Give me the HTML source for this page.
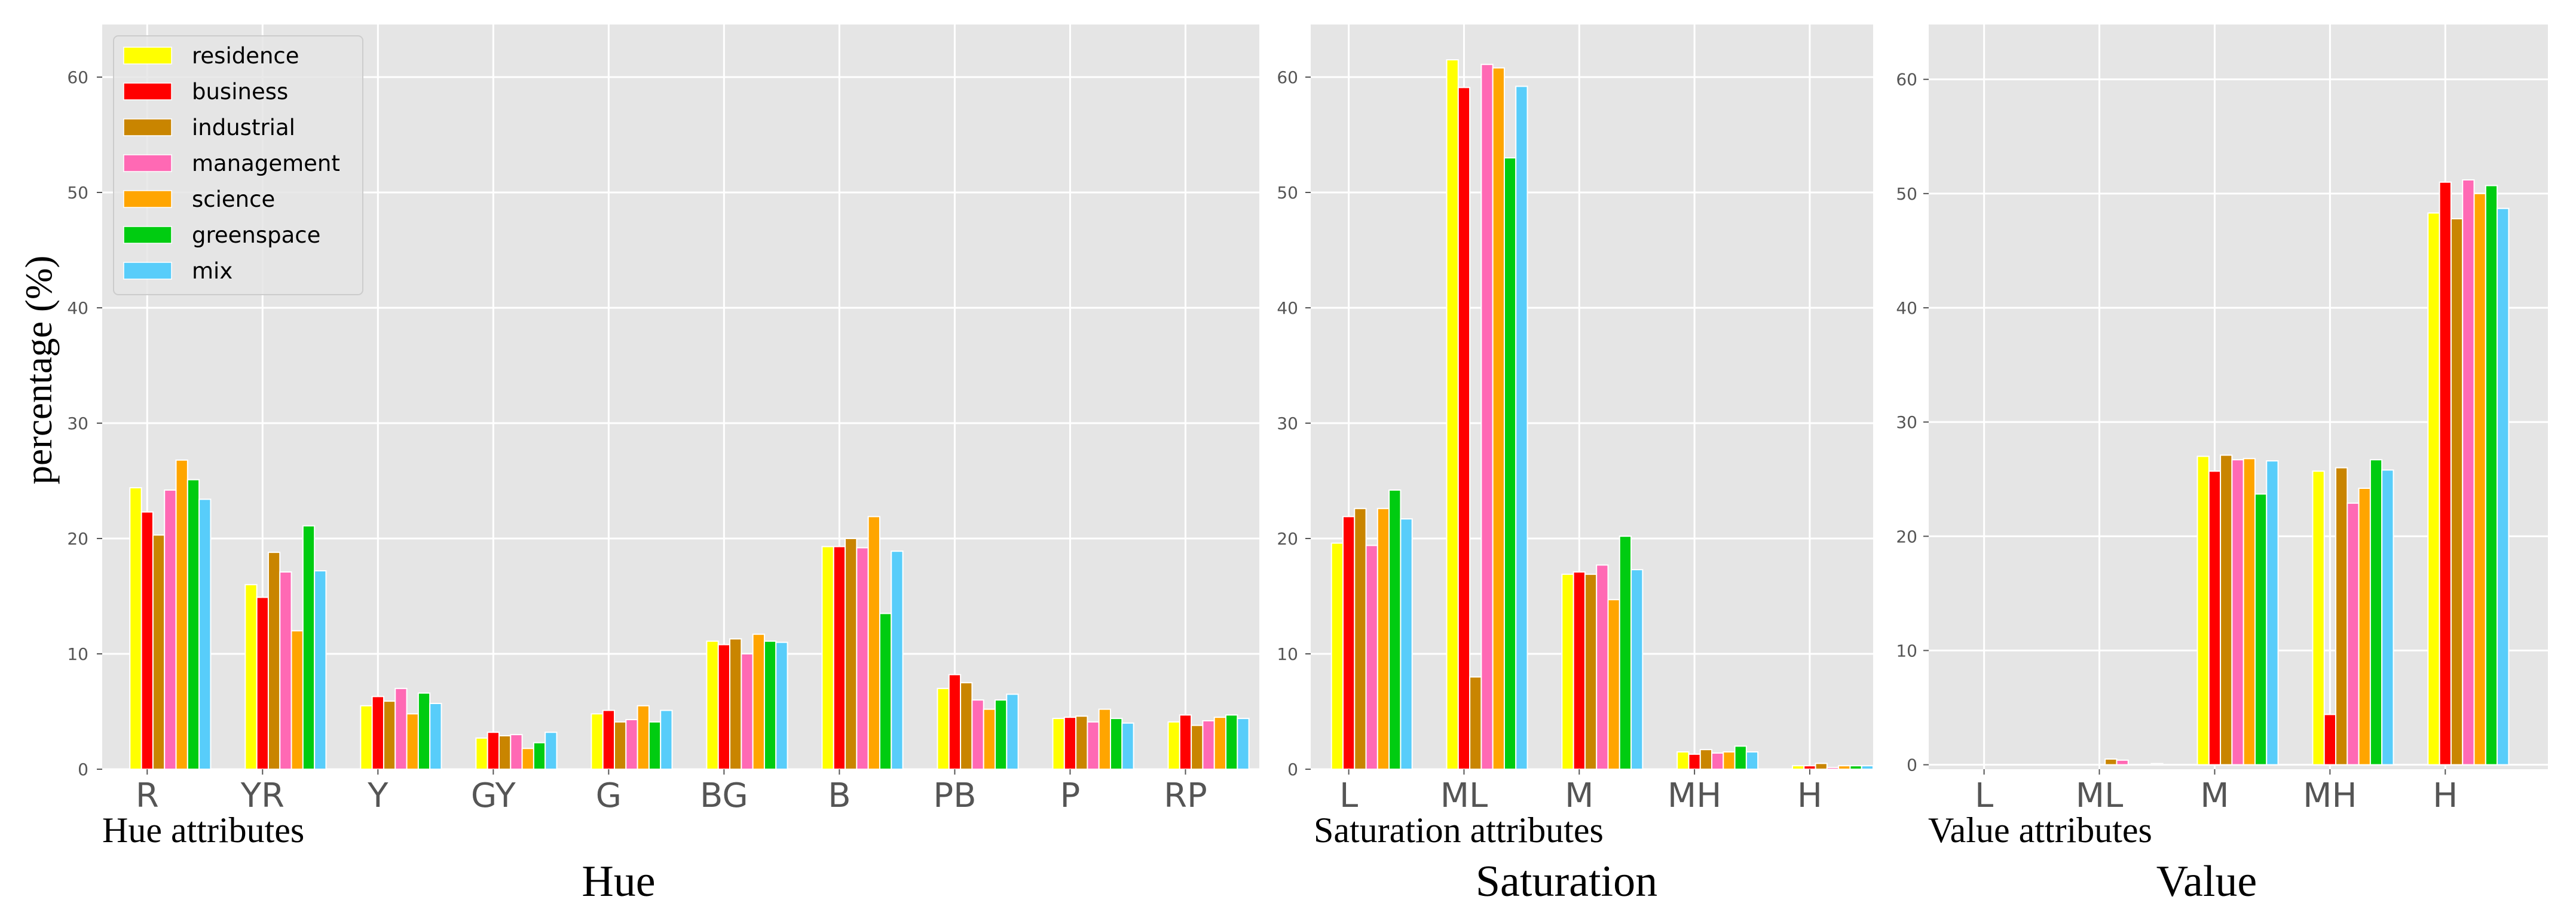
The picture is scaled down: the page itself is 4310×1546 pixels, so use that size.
<!DOCTYPE html>
<html><head><meta charset="utf-8"><style>
html,body{margin:0;padding:0;background:#fff;}
svg{display:block;}
</style></head><body>
<svg id="chart" width="4310" height="1546" viewBox="0 0 4310 1546" xmlns="http://www.w3.org/2000/svg"></svg>
<script>
const series = ["residence","business","industrial","management","science","greenspace","mix"];
const colors = ["#ffff00","#ff0000","#c98500","#ff69b4","#ffa500","#00cc11","#58cdfa"];
const hueCats = ["R","YR","Y","GY","G","BG","B","PB","P","RP"];
const satCats = ["L","ML","M","MH","H"];
const valCats = ["L","ML","M","MH","H"];
const yTicks = [0,10,20,30,40,50,60];
// values per category, ordered by series
const hueVals = [
 [24.4,22.3,20.3,24.2,26.8,25.1,23.4],
 [16.0,14.9,18.8,17.1,12.0,21.1,17.2],
 [5.5,6.3,5.9,7.0,4.8,6.6,5.7],
 [2.7,3.2,2.9,3.0,1.8,2.3,3.2],
 [4.8,5.1,4.1,4.3,5.5,4.1,5.1],
 [11.1,10.8,11.3,10.0,11.7,11.1,11.0],
 [19.3,19.3,20.0,19.2,21.9,13.5,18.9],
 [7.0,8.2,7.5,6.0,5.2,6.0,6.5],
 [4.4,4.5,4.6,4.1,5.2,4.4,4.0],
 [4.1,4.7,3.8,4.2,4.5,4.7,4.4]
];
const satVals = [
 [19.6,21.9,22.6,19.4,22.6,24.2,21.7],
 [61.5,59.1,8.0,61.1,60.8,53.0,59.2],
 [16.9,17.1,16.9,17.7,14.7,20.2,17.3],
 [1.5,1.3,1.7,1.4,1.5,2.0,1.5],
 [0.3,0.3,0.5,0.15,0.3,0.3,0.3]
];
const valVals = [
 [0,0,0,0,0,0,0],
 [0,0,0.5,0.4,0,0,0.1],
 [27.0,25.7,27.1,26.7,26.8,23.7,26.6],
 [25.7,4.4,26.0,22.9,24.2,26.7,25.8],
 [48.3,51.0,47.8,51.2,50.0,50.7,48.7]
];

const NS="http://www.w3.org/2000/svg";
const svg=document.getElementById('chart');
function mk(tag,attrs,parent){const e=document.createElementNS(NS,tag);for(const k in attrs)e.setAttribute(k,attrs[k]);(parent||svg).appendChild(e);return e;}

function panel(name,cats,vals,box,xlim,ylim,ylabX,subTitle,subX,title,titleX){
  const g=mk('g',{});
  
  
  const sx=v=>box.x+(v-xlim[0])/(xlim[1]-xlim[0])*box.w;
  const sy=v=>box.y+box.h-(v-ylim[0])/(ylim[1]-ylim[0])*box.h;
  const bg=mk('rect',{x:box.x,y:box.y,width:box.w,height:box.h,fill:'#e5e5e5'},g);
  
  
  yTicks.forEach(t=>{
    const y=sy(t);
    const gl=mk('line',{x1:box.x,x2:box.x+box.w,y1:y,y2:y,stroke:'#fff','stroke-width':3},g);
    
    
    mk('line',{x1:box.x-9,x2:box.x,y1:y,y2:y,stroke:'#555','stroke-width':2},g);
    const tx=mk('text',{x:ylabX,y:y+10,'text-anchor':'end','font-family':'DejaVu Sans, Liberation Sans, sans-serif','font-size':28,fill:'#555'},g);
    tx.textContent=t;
    
    
  });
  cats.forEach((c,i)=>{
    const x=sx(i);
    const gl=mk('line',{x1:x,x2:x,y1:box.y,y2:box.y+box.h,stroke:'#fff','stroke-width':3},g);
    
    
    mk('line',{x1:x,x2:x,y1:box.y+box.h,y2:box.y+box.h+9,stroke:'#555','stroke-width':2},g);
    const tx=mk('text',{x:x,y:box.y+box.h+63,'text-anchor':'middle','font-family':'DejaVu Sans, Liberation Sans, sans-serif','font-size':56,fill:'#555'},g);
    tx.textContent=c;
    
    
  });
  const clip=mk('clipPath',{id:'clip-'+name},g);
  mk('rect',{x:box.x,y:box.y,width:box.w,height:box.h},clip);
  const bars=mk('g',{'clip-path':'url(#clip-'+name+')'},g);
  const bw=0.1;
  cats.forEach((c,i)=>{
    series.forEach((s,j)=>{
      const v=vals[i][j];
      const xc=i+(j-1)*bw;
      const x0=sx(xc-bw/2), x1=sx(xc+bw/2);
      const y0=sy(0), y1=sy(v);
      const r=mk('rect',{x:x0,y:Math.min(y0,y1),width:x1-x0,height:Math.abs(y0-y1),fill:colors[j],stroke:'#fff','stroke-width':2},bars);
      
      
    });
  });
  const st=mk('text',{x:subX,y:1409,'font-family':'Liberation Serif, serif','font-size':60,fill:'#000'},g);
  st.textContent=subTitle;
  
  
  const tt=mk('text',{x:titleX,y:1499,'text-anchor':'middle','font-family':'Liberation Serif, serif','font-size':74,fill:'#000'},g);
  tt.textContent=title;
  
  
}

panel('hue',hueCats,hueVals,{x:171,y:41,w:1936,h:1246},[-0.39,9.64],[0,64.56],148,'Hue attributes',171,'Hue',1035);
panel('saturation',satCats,satVals,{x:2193,y:41,w:941,h:1246},[-0.33,4.55],[0,64.56],2172,'Saturation attributes',2198,'Saturation',2621);
panel('value',valCats,valVals,{x:3227,y:41,w:1036,h:1246},[-0.48,4.89],[-0.39,64.8],3208,'Value attributes',3226,'Value',3692);

const yt=mk('text',{x:0,y:0,transform:'translate(86,619) rotate(-90)','text-anchor':'middle','font-family':'Liberation Serif, serif','font-size':63,fill:'#000'});
yt.textContent='percentage (%)';



// legend
const lg=mk('g',{});


mk('rect',{x:190,y:60,width:417,height:433,rx:8,fill:'#e5e5e5','fill-opacity':0.85,stroke:'#cccccc','stroke-width':2},lg);
series.forEach((s,j)=>{
  const cy=93+j*60;
  const e=mk('g',{},lg);
  
  
  mk('rect',{x:207,y:cy-14,width:80,height:28,fill:colors[j],stroke:'#fff','stroke-width':1.5},e);
  const t=mk('text',{x:321,y:cy+13,'font-family':'DejaVu Sans, Liberation Sans, sans-serif','font-size':37,fill:'#000'},e);
  t.textContent=s;
});
</script>
</body></html>
